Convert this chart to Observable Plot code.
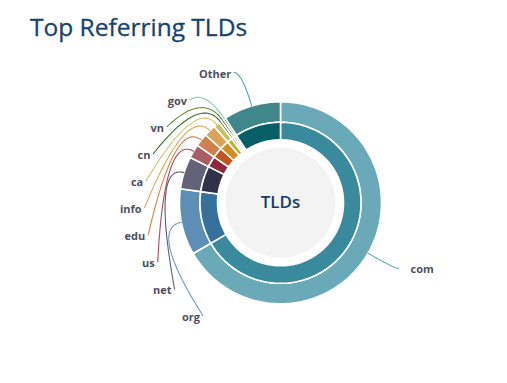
<!DOCTYPE html>
<html><head><meta charset="utf-8">
<script src="https://cdn.jsdelivr.net/npm/d3@7"></script>
<script src="https://cdn.jsdelivr.net/npm/@observablehq/plot@0.6"></script>
<style>
body{margin:0;background:#fff;font-family:"Open Sans",sans-serif;}
#title{height:60px;box-sizing:border-box;padding:12px 0 0 30px;font-size:24.5px;font-weight:400;line-height:30px;color:#16436e;-webkit-text-stroke:0.3px #16436e;}
#chart svg{display:block;}
</style></head><body>
<div id="title">Top Referring TLDs</div>
<div id="chart"></div>
<script>
// Data (share of referrals, %)
const tlds = ["com","org","net","us","edu","info","ca","cn","vn","gov","Other"];
const shares = [66.7, 10.6, 5.2, 2.2, 2.1, 1.9, 1.0, 0.45, 0.4, 0.35, 9.2];
const innerColors = ["#3a8a9e","#356f9c","#31314a","#90283a","#c3531b","#d08f21","#b8b23a","#557a2e","#35612a","#2a6a48","#065f66"];
const outerColors = ["#6aaab8","#5d8fb6","#636276","#a85c66","#d17f4d","#d6a558","#c3c069","#6f9350","#4f7a3f","#4f8f6a","#3f878a"];
const lineColors  = ["#6aaab8","#6f9cc0","#5e5d72","#b04a5a","#d5834d","#dba75a","#cfc66a","#3f6b2a","#6e8d3d","#8ccbb0","#5fa4a8"];
const centerLabel = "TLDs";

// Layout
const W = 507, H = 323, CX = 280, CY = 142.3;
const R_IN0 = 63, R_IN1 = 80.5, R_OUT1 = 101;
const total = d3.sum(shares);
let acc = 0;
const segs = tlds.map((k, i) => {
  const a0 = acc / total * 360; acc += shares[i];
  const a1 = acc / total * 360;
  return {key: k, i, a0, a1, mid: (a0 + a1) / 2};
});
const rad = a => a * Math.PI / 180;
const pt = (r, a) => [r * Math.sin(rad(a)), r * Math.cos(rad(a))];

function ring(r0, r1, colors, tag) {
  const out = [];
  for (const s of segs) {
    const n = Math.max(2, Math.ceil((s.a1 - s.a0) / 1.5));
    const pts = [];
    for (let j = 0; j <= n; j++) pts.push(pt(r1, s.a0 + (s.a1 - s.a0) * j / n));
    for (let j = n; j >= 0; j--) pts.push(pt(r0, s.a0 + (s.a1 - s.a0) * j / n));
    for (const [x, y] of pts) out.push({x, y, key: tag + s.key, fill: colors[s.i]});
  }
  return out;
}
const arcs = [...ring(R_IN1, R_OUT1, outerColors, "o"), ...ring(R_IN0, R_IN1, innerColors, "i")];

// Labels: "com" on the right, the rest stacked on the left (top to bottom)
const leftOrder = segs.slice(1).reverse();
const labels = [];
leftOrder.forEach((s, k) => {
  const y = 128.3 - k * 27.03;
  const dy = y + 1.7;
  const x = -Math.sqrt(139 * 139 - dy * dy);
  labels.push({seg: s, x, y, anchor: "end", p0: [x + 3, y + 2]});
});
{
  const s = segs[0];
  const y = 133 * Math.cos(rad(s.mid)), x = 150 * Math.sin(rad(s.mid));
  labels.push({seg: s, x, y, anchor: "start", p0: [x - 12, y + 1]});
}
const leaders = [];
for (const l of labels) {
  const P0 = l.p0, P1 = pt(135, l.seg.mid), P2 = pt(R_OUT1, l.seg.mid);
  for (let j = 0; j <= 30; j++) {
    const t = j / 30, u = 1 - t;
    leaders.push({
      x: u*u*P0[0] + 2*u*t*P1[0] + t*t*P2[0],
      y: u*u*P0[1] + 2*u*t*P1[1] + t*t*P2[1],
      key: l.seg.key, stroke: lineColors[l.seg.i]
    });
  }
}

const chart = Plot.plot({
  width: W, height: H, margin: 0,
  x: {domain: [-CX, W - CX], axis: null},
  y: {domain: [-(H - CY), CY], axis: null},
  color: {type: "identity"},
  style: {fontFamily: "'Open Sans', sans-serif", background: "#fff"},
  marks: [
    Plot.line(arcs, {x: "x", y: "y", z: "key", fill: "fill", stroke: "#fff", strokeWidth: 1.6, curve: "linear-closed"}),
    Plot.dot([0], {x: () => 0, y: () => 0, r: 55, fill: "#f3f3f3", stroke: "none"}),
    Plot.text([centerLabel], {x: () => 0, y: () => 0, text: d => d, fontSize: 17, fontWeight: 600, fill: "#163d66"}),
    Plot.line(leaders, {x: "x", y: "y", z: "key", stroke: "stroke", strokeWidth: 1.1, fill: "none"}),
    Plot.text(labels.filter(l => l.anchor === "end"), {x: "x", y: "y", text: d => d.seg.key, textAnchor: "end", fontSize: 11, fontWeight: "bold", fill: "#4f4f5c"}),
    Plot.text(labels.filter(l => l.anchor === "start"), {x: "x", y: "y", text: d => d.seg.key, textAnchor: "start", fontSize: 11, fontWeight: "bold", fill: "#4f4f5c"})
  ]
});
document.getElementById("chart").appendChild(chart);
</script>
</body></html>
